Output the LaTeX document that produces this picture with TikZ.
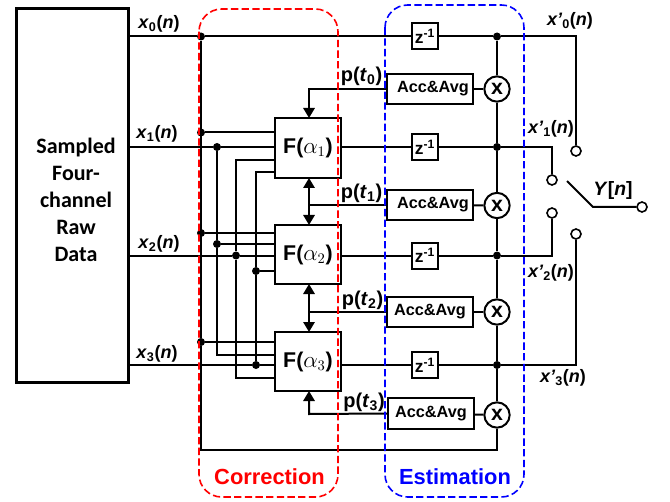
\documentclass[tikz,border=0pt]{standalone}
\usepackage{fontspec}
\setmainfont{Liberation Sans}
\newfontfamily\rawfont{Carlito}
\usetikzlibrary{arrows.meta}
\tikzset{
  px/.style={x=0.75pt,y=-0.75pt},
  wire/.style={line width=1.5pt,black},
  boxed/.style={draw=black,line width=1.5pt,fill=white,inner sep=0pt,anchor=center},
  raw/.style={boxed,line width=2.25pt,minimum width=84pt,minimum height=279.75pt},
  rawtext/.style={align=center,inner sep=0pt,font=\rawfont\bfseries\fontsize{16.5}{20.25}\selectfont},
  fbox/.style={boxed,minimum width=49.5pt,minimum height=44.5pt,font=\bfseries\fontsize{16}{18}\selectfont},
  zbox/.style={boxed,minimum width=19.5pt,minimum height=19.5pt,font=\bfseries\fontsize{13}{14}\selectfont},
  acc/.style={boxed,minimum width=64.5pt,minimum height=22pt,font=\bfseries\fontsize{12.2}{14}\selectfont},
  mult/.style={circle,boxed,minimum size=19pt,font=\bfseries\fontsize{16}{16}\selectfont},
  dot/.style={circle,fill=black,draw=none,inner sep=0pt,minimum size=6pt},
  term/.style={circle,draw=black,line width=1.2pt,fill=white,inner sep=0pt,minimum size=7.5pt},
  sig/.style={font=\bfseries\fontsize{13.5}{16}\selectfont,inner sep=0pt},
  ptl/.style={font=\bfseries\fontsize{15}{18}\selectfont,inner sep=0pt},
  grp/.style={line width=1.2pt,dash pattern=on 5.5pt off 2.5pt,rounded corners=17pt},
  grpt/.style={font=\bfseries\fontsize{16.4}{18}\selectfont,inner sep=0pt},
  arr/.style={wire,-{Triangle[length=7.5pt,width=8.5pt]}},
  darr/.style={wire,{Triangle[length=7.5pt,width=8.5pt]}-{Triangle[length=7.5pt,width=8.5pt]}},
}
\begin{document}
\begin{tikzpicture}[px]
\useasboundingbox (0,0) rectangle (670,502);
% main blocks
\node[raw] (raw) at (72,195.5) {};
\node[rawtext] (rawt) at (76,199.5) {Sampled\\Four-\\channel\\Raw\\Data};
\node[fbox] (f1) at (308,148) {F($\alpha_{1}$)};
\node[fbox] (f2) at (308,254.5) {F($\alpha_{2}$)};
\node[fbox] (f3) at (308,361.5) {F($\alpha_{3}$)};
\node[zbox] (z0) at (425,36.5) {z\textsuperscript{-1}};
\node[zbox] (z1) at (425,147) {z\textsuperscript{-1}};
\node[zbox] (z2) at (425,255.5) {z\textsuperscript{-1}};
\node[zbox] (z3) at (425,365) {z\textsuperscript{-1}};
\node[acc] (a0) at (430,89) {\hspace*{4.5pt}Acc\&Avg};
\node[acc] (a1) at (430,205) {\hspace*{4.5pt}Acc\&Avg};
\node[acc] (a2) at (430,312) {Acc\&Avg};
\node[acc,minimum height=23pt] (a3) at (431,413.5) {Acc\&Avg};
\node[mult] (m0) at (497,89) {x};
\node[mult] (m1) at (497,205.5) {x};
\node[mult] (m2) at (497,312) {x};
\node[mult] (m3) at (497,415) {x};
% junctions
\node[dot] (b0) at (201,36.5) {};
\node[dot] (b1) at (201,132.5) {};
\node[dot] (b2) at (201,233) {};
\node[dot] (b3) at (201,342) {};
\node[dot] (j1) at (217,147) {};
\node[dot] (j1b) at (217,244) {};
\node[dot] (j2) at (236,255.5) {};
\node[dot] (j3b) at (256,271) {};
\node[dot] (j3) at (256,365) {};
\node[dot] (e0) at (497,36.5) {};
\node[dot] (e1) at (497,147) {};
\node[dot] (e2) at (497,255.5) {};
\node[dot] (e3) at (497,365) {};
% switch terminals
\node[term] (t0) at (576,151) {};
\node[term] (t1) at (552,180) {};
\node[term] (t2) at (552,213) {};
\node[term] (t3) at (576,234) {};
\node[term] (ty) at (642,207) {};
\coordinate (yk) at (593,207);
\coordinate (yb) at (567,181);
% wires
\draw[wire] (raw.east |- b0) -- (b0) -- (z0);
\draw[wire] (z0) -- (e0) -- (e0 -| t0) -- (t0);
\draw[wire] (raw.east |- j1) -- (j1) -- (f1.west |- j1);
\draw[wire] (raw.east |- j2) -- (j2) -- (f2.west |- j2);
\draw[wire] (raw.east |- j3) -- (j3) -- (f3.west |- j3);
\draw[wire] (f1.east |- z1) -- (z1);
\draw[wire] (f2.east |- z2) -- (z2);
\draw[wire] (f3.east |- z3) -- (z3);
\draw[wire] (z1) -- (e1) -- (e1 -| t1) -- (t1);
\draw[wire] (z2) -- (e2) -- (e2 -| t2) -- (t2);
\draw[wire] (z3) -- (e3) -- (e3 -| t3) -- (t3);
\draw[wire] (b0) -- (b3) -- (201,450) -- (m3 |- 0,450) -- (m3);
\draw[wire] (b1) -- (f1.west |- b1);
\draw[wire] (b2) -- (f2.west |- b2);
\draw[wire] (b3) -- (f3.west |- b3);
\draw[wire] (j1) -- (j1b) -- (217,355) -- (f3.west |- 0,355);
\draw[wire] (j1b) -- (f2.west |- j1b);
\draw[wire] (f1.west |- 0,160) -- (236,160) -- (j2) -- (236,378) -- (f3.west |- 0,378);
\draw[wire] (f1.west |- 0,172) -- (256,172) -- (j3b) -- (j3);
\draw[wire] (j3b) -- (f2.west |- j3b);
\draw[wire] (e0) -- (m0);
\draw[wire] (m0) -- (e1);
\draw[wire] (e1) -- (m1);
\draw[wire] (m1) -- (e2);
\draw[wire] (e2) -- (m2);
\draw[wire] (m2) -- (e3);
\draw[wire] (e3) -- (m3);
\draw[wire] (a0) -- (m0);
\draw[wire] (a1) -- (m1);
\draw[wire] (a2) -- (m2);
\draw[wire] (a3) -- (m3);
\draw[wire] (ty) -- (yk) -- (yb);
% control arrows
\coordinate (c1) at (309,205);
\coordinate (c2) at (309,312);
\draw[arr] (a0.west) -- (309,89) -- (309,118);
\draw[wire] (a1.west) -- (c1);
\draw[darr] (309,178) -- (309,225);
\draw[wire] (a2.west) -- (c2);
\draw[darr] (309,284) -- (309,332);
\draw[arr] (a3.west) -- (309,414) -- (309,391);
% groups
\draw[grp,red] (199,9) rectangle (338,497);
\draw[grp,blue] (385,5) rectangle (524,497);
\node[grpt,text=red] (lc) at (269.5,476.5) {Correction};
\node[grpt,text=blue] (le) at (455,476.5) {Estimation};
% signal labels
\node[sig] at (159,24) {\textit{x}\textsubscript{0}(\textit{n})};
\node[sig] at (157,134) {\textit{x}\textsubscript{1}(\textit{n})};
\node[sig] at (159,244) {\textit{x}\textsubscript{2}(\textit{n})};
\node[sig] at (157,354) {\textit{x}\textsubscript{3}(\textit{n})};
\node[sig] at (570,21) {\textit{x'}\textsubscript{0}(\textit{n})};
\node[sig] at (551,129) {\textit{x'}\textsubscript{1}(\textit{n})};
\node[sig] at (551,273) {\textit{x'}\textsubscript{2}(\textit{n})};
\node[sig] at (563,378) {\textit{x'}\textsubscript{3}(\textit{n})};
\node[font=\bfseries\fontsize{14.5}{16}\selectfont,inner sep=0] at (613,191) {\textit{Y}[\textit{n}]};
\node[ptl] at (361.5,76) {p(\textit{t}\textsubscript{0})};
\node[ptl] at (361.5,193) {p(\textit{t}\textsubscript{1})};
\node[ptl] at (362.5,300) {p(\textit{t}\textsubscript{2})};
\node[ptl] at (364,402) {p(\textit{t}\textsubscript{3})};
\end{tikzpicture}
\end{document}
